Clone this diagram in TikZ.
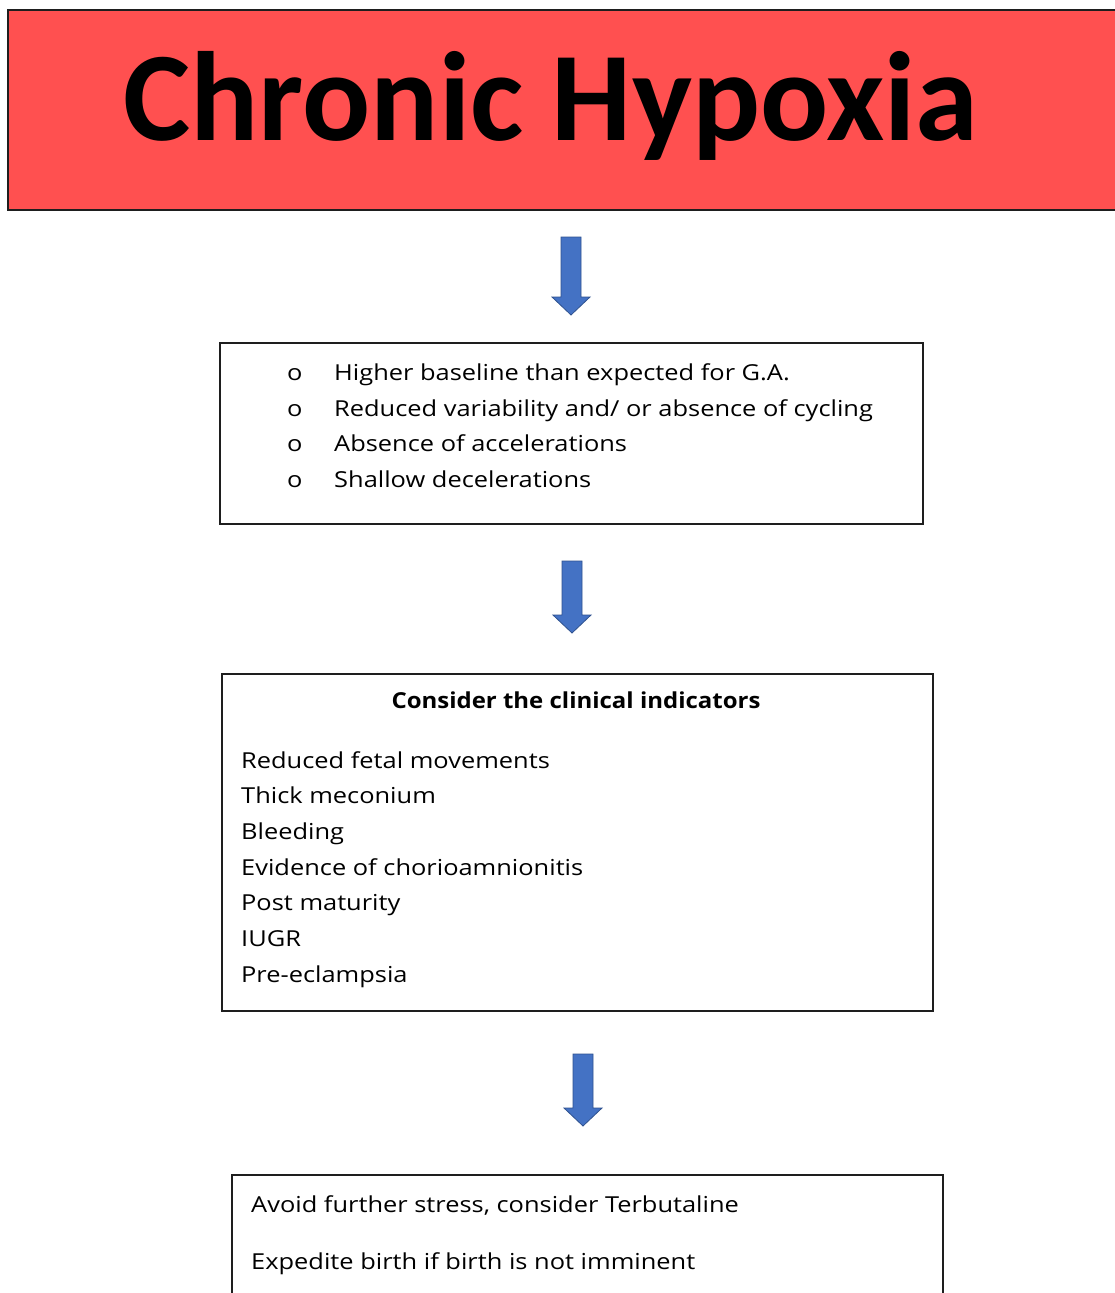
\documentclass[tikz,border=0pt]{standalone}
\usepackage{fontspec}
\setmainfont{Open Sans}
\newfontfamily\bodyfont[FakeStretch=1.155]{Open Sans}
\newfontfamily\headfont[FakeStretch=1.09]{Open Sans Bold}
\newfontfamily\titlefont{Carlito}
\usetikzlibrary{calc}

\definecolor{titlered}{RGB}{255,80,80}
\definecolor{arrowblue}{RGB}{68,114,196}
\definecolor{arrowedge}{RGB}{47,82,143}
\definecolor{boxline}{RGB}{30,30,30}

\tikzset{
  frame/.style={draw=boxline, line width=1.6pt, rectangle, inner sep=0pt, anchor=north west},
  txt/.style={anchor=base west, inner sep=0pt, font=\bodyfont\fontsize{22}{26}\selectfont},
  bullet/.style={anchor=base west, inner sep=0pt, font=\bodyfont\fontsize{22}{26}\selectfont},
  blockarrow/.style={fill=arrowblue, draw=arrowedge, line width=0.8pt, line join=miter}
}

% downward block arrow: #1 = top of the shaft, #2 = tip
\newcommand\blockdown[2]{%
  \path[blockarrow] ($(#1)+(-10,0)$) -- ($(#1)+(10,0)$) -- ($(#2)+(10,-18)$)
    -- ($(#2)+(19,-18)$) -- (#2) -- ($(#2)+(-19,-18)$) -- ($(#2)+(-10,-18)$) -- cycle;}

\begin{document}
\begin{tikzpicture}[x=1pt,y=-1pt]
  \clip (0,0) rectangle (1115,1293);
  \fill[white] (0,0) rectangle (1115,1293);

  % title banner
  \node[frame, fill=titlered, minimum width=1120pt, minimum height=200pt] (title) at (7,9) {};
  \node[anchor=base, inner sep=0pt, font=\titlefont\fontsize{127}{140}\selectfont\bfseries] (titletext) at (551,140) {Chronic Hypoxia};

  % CTG features
  \node[frame, minimum width=703pt, minimum height=181pt] (features) at (219,342) {};
  \foreach \y/\t [count=\i] in {380/{Higher baseline than expected for G.A.},
                     416/{Reduced variability and/ or absence of cycling},
                     451/{Absence of accelerations},
                     487/{Shallow decelerations}} {
    \node[bullet] (fb\i) at (287,\y) {o};
    \node[txt] (ft\i) at (334,\y) {\t};
  }

  % clinical indicators
  \node[frame, minimum width=711pt, minimum height=337pt] (clinical) at (221,673) {};
  \node[anchor=base, inner sep=0pt, font=\headfont\fontsize{22}{26}\selectfont] (clinhead) at (576,708) {Consider the clinical indicators};
  \foreach \t [count=\i] in {Reduced fetal movements, Thick meconium, Bleeding,
                             Evidence of chorioamnionitis, Post maturity, IUGR, Pre-eclampsia} {
    \node[txt] (ci\i) at (241,{768+35.67*(\i-1)}) {\t};
  }

  % management
  \node[frame, minimum width=711pt, minimum height=160pt] (manage) at (231,1174) {};
  \node[txt] (m1) at (251,1212) {Avoid further stress, consider Terbutaline};
  \node[txt] (m2) at (251,1269) {Expedite birth if birth is not imminent};

  % connecting arrows
  \coordinate (a1top) at (571,237);
  \coordinate (a1tip) at (571,315);
  \coordinate (a2top) at (572,561);
  \coordinate (a2tip) at (572,633);
  \coordinate (a3top) at (583,1054);
  \coordinate (a3tip) at (583,1126);
  \blockdown{a1top}{a1tip}
  \blockdown{a2top}{a2tip}
  \blockdown{a3top}{a3tip}
\end{tikzpicture}
\end{document}
